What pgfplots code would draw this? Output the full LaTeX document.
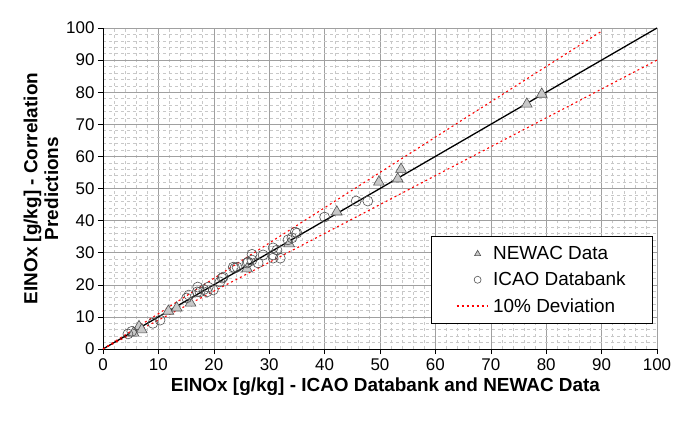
\documentclass[border=0pt]{standalone}
\usepackage{fontspec}
\setmainfont{Liberation Sans}
\usepackage{pgfplots}
\pgfplotsset{compat=1.18}

\definecolor{majgrid}{RGB}{160,160,160}
\definecolor{mingrid}{RGB}{200,200,200}
\definecolor{markedge}{RGB}{80,80,80}
\definecolor{trifill}{RGB}{200,200,200}

\begin{document}
\begin{tikzpicture}
\begin{axis}[
    scale only axis,
    width=554bp, height=321bp,
    xmin=0, xmax=100, ymin=0, ymax=100,
    xtick={0,10,...,100}, ytick={0,10,...,100},
    minor tick num=4,
    grid=both,
    major grid style={draw=majgrid, line width=0.6pt},
    minor grid style={draw=mingrid, dashed, line width=0.5pt},
    axis x line*=bottom, axis y line*=left,
    axis line style={-, black, line width=0.8pt},
    tick align=outside, major tick length=5bp, minor tick length=0pt,
    tick style={black, line width=0.6pt},
    /pgf/number format/assume math mode=true,
    tick label style={font=\fontsize{17}{19}\selectfont},
    xticklabel style={yshift=-1bp},
    xlabel={\textbf{EINOx [g/kg] - ICAO Databank and NEWAC Data}},
    ylabel={\textbf{EINOx [g/kg] - Correlation}\\\textbf{Predictions}},
    label style={font=\fontsize{19}{21}\selectfont},
    xlabel style={at={(axis description cs:0.51,-0.118)}, anchor=center},
    ylabel style={at={(axis description cs:-0.112,0.5)}, anchor=center, align=center},
    legend style={at={(0.993,0.078)}, anchor=south east, draw=black, line width=0.8pt,
        fill=white, font=\fontsize{19}{21}\selectfont, inner xsep=25bp, inner ysep=8bp,
        row sep=7bp, cells={anchor=west},
        /tikz/every odd column/.append style={column sep=4bp}},
    legend image code/.code={%
        \draw[mark repeat=2, mark phase=2, #1, mark size=3.5bp]
            plot coordinates {(0bp,0bp) (21bp,0bp) (42bp,0bp)};},
]
% reference lines
\addplot[black, line width=1.3pt, forget plot] coordinates {(0,0) (100,100)};
\addplot[red, line width=1.1pt, dash pattern=on 2pt off 3pt, forget plot] coordinates {(0,0) (90,99)};
\addplot[red, line width=1.1pt, dash pattern=on 2pt off 3pt, forget plot] coordinates {(0,0) (100,90)};

% NEWAC data
\addplot[only marks, mark=triangle*, mark size=6.2bp,
    mark options={draw=markedge, fill=trifill, line width=0.6pt}] coordinates {
    (5.5,5.0) (6.5,7.0) (7.0,6.0) (11.8,11.8) (13.3,12.8) (15.8,14.3)
    (26.0,25.0) (33.6,32.8) (42.2,42.7) (49.8,52.0) (53.2,53.0) (53.8,56.0)
    (76.5,76.3) (79.2,79.4)
};
\addlegendentry{NEWAC Data}

% ICAO databank
\addplot[only marks, mark=o, mark size=5bp,
    mark options={draw=markedge, line width=0.6pt}] coordinates {
    (4.5,4.7) (5.2,5.5) (9.0,8.0) (10.3,9.0) (15.1,15.9) (15.5,16.8)
    (17.0,17.8) (17.1,19.3) (17.5,17.8) (18.2,18.5) (18.8,17.8) (19.0,19.3)
    (19.9,18.4) (21.1,20.9) (21.5,22.1) (21.7,22.4) (23.5,25.5) (23.8,25.2)
    (24.2,25.5) (26.0,26.8) (26.2,27.1) (26.9,27.7) (26.9,29.5) (28.0,26.8)
    (28.9,29.3) (30.7,29.3) (30.7,28.3) (30.7,31.5) (31.4,30.8) (32.0,28.3)
    (33.4,34.0) (34.1,34.6) (34.7,36.4) (35.0,36.1) (40.0,41.1) (45.7,46.1)
    (47.8,46.1)
};
\addlegendentry{ICAO Databank}

\addlegendimage{legend image code/.code={%
    \draw[red, line width=1.1pt, dash pattern=on 2pt off 3pt] (0bp,0bp) -- (30bp,0bp);}}
\addlegendentry{10\% Deviation}
\end{axis}
\path[use as bounding box] (-103bp,-76bp) rectangle (573bp,349bp);
\end{tikzpicture}
\end{document}
